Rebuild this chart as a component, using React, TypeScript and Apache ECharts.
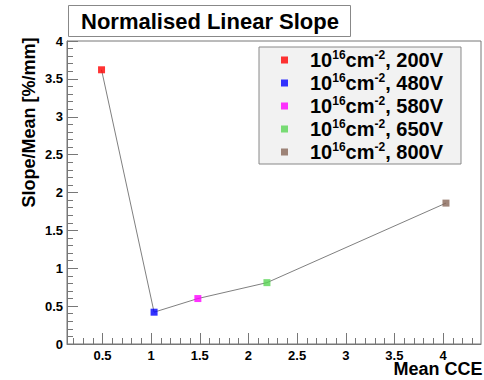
import React, { useEffect, useRef } from "react";
import * as echarts from "echarts";

// Mean CCE (x) and normalised slope (y) for each bias voltage
const cce = [0.49, 1.03, 1.48, 2.19, 4.03];
const slope = [3.62, 0.42, 0.6, 0.81, 1.86];
const voltages = ["200V", "480V", "580V", "650V", "800V"];
const markerColors = ["#ff0000", "#0000ff", "#ff00ff", "#59d454", "#876657"];

// Axis ranges and tick labels
const xRange = [0.135, 4.39];
const xMajorTicks = [0.5, 1, 1.5, 2, 2.5, 3, 3.5, 4];
const yRange = [0, 4];
const yStep = 0.5;

const FONT = "Liberation Sans";

function minorTicks(lo: number, hi: number, step: number): number[] {
  const out: number[] = [];
  const start = Math.ceil(lo / step - 1e-9);
  const end = Math.floor(hi / step + 1e-9);
  for (let i = start; i <= end; i++) out.push(Math.round(i * step * 1000) / 1000);
  return out;
}

export default function App() {
  const ref = useRef<HTMLDivElement>(null);

  useEffect(() => {
    document.body.style.margin = "0";
    if (!ref.current) return;
    const chart = echarts.init(ref.current, undefined, { renderer: "svg" });

    const frameColor = "#777";
    const labelStyle = {
      fontFamily: FONT,
      fontWeight: "bold" as const,
      fontSize: 13,
      color: "#000",
    };

    const pointSeries = voltages.map((v, i) => ({
      name: v,
      type: "scatter" as const,
      xAxisIndex: 0,
      yAxisIndex: 0,
      symbol: "rect",
      symbolSize: 7,
      itemStyle: { color: markerColors[i] },
      data: [[cce[i], slope[i]]],
      z: 3,
    }));

    chart.setOption({
      animation: false,
      textStyle: { fontFamily: FONT },
      title: {
        text: "Normalised Linear Slope",
        left: 68,
        top: 5,
        padding: [4, 12, 4, 13],
        backgroundColor: "#fff",
        borderColor: "#888",
        borderWidth: 1,
        textStyle: {
          fontFamily: FONT,
          fontWeight: "bold",
          fontSize: 22,
          lineHeight: 24,
          color: "#000",
        },
      },
      grid: {
        left: 67,
        right: 3,
        top: 41,
        bottom: 36,
        containLabel: false,
        outerBoundsMode: "none",
        show: true,
        borderColor: frameColor,
        borderWidth: 1,
        backgroundColor: "transparent",
      },
      legend: {
        data: voltages,
        orient: "vertical",
        left: 259,
        top: 47,
        padding: [2, 18, 2, 22],
        itemGap: 2,
        backgroundColor: "#f2f2f2",
        borderColor: "#888",
        borderWidth: 1,
        icon: "rect",
        itemWidth: 7,
        itemHeight: 7,
        selectedMode: false,
        formatter: (name: string) => `{a|10}{s|16}{b|cm}{s|-2}{b|, ${name}}`,
        textStyle: {
          rich: {
            a: {
              fontFamily: FONT,
              fontWeight: "bold",
              fontSize: 20,
              lineHeight: 22,
              color: "#000",
              padding: [0, 0, 0, 17],
            },
            b: {
              fontFamily: FONT,
              fontWeight: "bold",
              fontSize: 20,
              lineHeight: 22,
              color: "#000",
            },
            s: {
              fontFamily: FONT,
              fontWeight: "bold",
              fontSize: 12,
              lineHeight: 12,
              verticalAlign: "top",
              color: "#000",
            },
          },
        },
      },
      xAxis: [
        {
          type: "value",
          min: xRange[0],
          max: xRange[1],
          splitLine: { show: false },
          axisLine: { lineStyle: { color: frameColor, width: 1 } },
          axisTick: {
            inside: true,
            length: 11,
            customValues: xMajorTicks,
            lineStyle: { color: frameColor },
          },
          axisLabel: {
            ...labelStyle,
            margin: 6,
            lineHeight: 11,
            customValues: xMajorTicks,
            formatter: (v: number) => String(v),
          },
          name: "Mean CCE",
          nameLocation: "middle",
          nameGap: 17,
          nameMoveOverlap: false,
          nameTextStyle: {
            fontFamily: FONT,
            fontWeight: "bold",
            fontSize: 18,
            lineHeight: 16,
            color: "#000",
            verticalAlign: "top",
            padding: [0, 0, 0, 328],
          },
        },
        {
          type: "value",
          min: xRange[0],
          max: xRange[1],
          position: "bottom",
          splitLine: { show: false },
          axisLine: { show: false },
          axisTick: {
            inside: true,
            length: 6,
            customValues: minorTicks(xRange[0], xRange[1], 0.1),
            lineStyle: { color: frameColor },
          },
          axisLabel: { show: false },
        },
      ],
      yAxis: {
        type: "value",
        min: yRange[0],
        max: yRange[1],
        interval: yStep,
        splitLine: { show: false },
        axisLine: { show: true, lineStyle: { color: frameColor, width: 1 } },
        axisTick: { show: true, inside: true, length: 11, lineStyle: { color: frameColor } },
        minorTick: {
          show: true,
          splitNumber: 5,
          length: 6,
          lineStyle: { color: frameColor },
        },
        axisLabel: {
          ...labelStyle,
          margin: 4,
          formatter: (v: number) => String(v),
        },
        name: "Slope/Mean [%/mm]",
        nameLocation: "middle",
        nameRotate: 90,
        nameGap: 29,
        nameMoveOverlap: false,
        nameTextStyle: {
          fontFamily: FONT,
          fontWeight: "bold",
          fontSize: 18,
          color: "#000",
          padding: [0, 0, 0, 140],
        },
      },
      series: [
        {
          name: "trend",
          type: "line",
          xAxisIndex: 0,
          yAxisIndex: 0,
          showSymbol: false,
          symbol: "none",
          lineStyle: { color: "#808080", width: 1 },
          data: cce.map((x, i) => [x, slope[i]]),
          z: 2,
        },
        ...pointSeries,
      ],
    });

    return () => chart.dispose();
  }, []);

  return <div ref={ref} style={{ width: 484, height: 380 }} />;
}
